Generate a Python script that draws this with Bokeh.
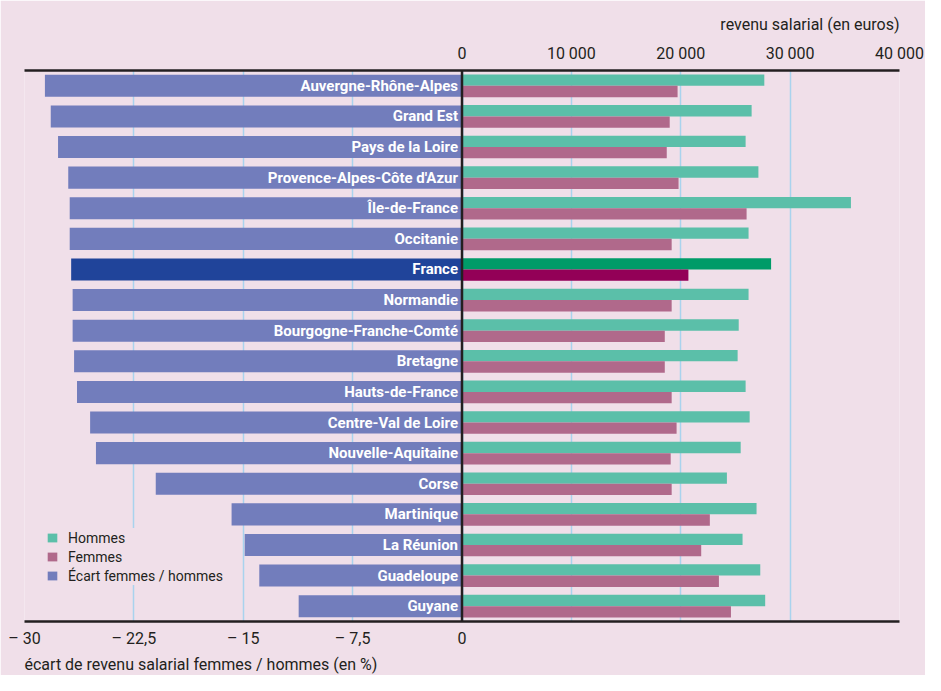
from bokeh.plotting import figure
from bokeh.models import (ColumnDataSource, FactorRange, Range1d, LinearAxis, FixedTicker,
                          Grid, Span, Legend, LegendItem, Title)
from bokeh.transform import dodge
from bokeh.core.properties import value
from bokeh.embed import file_html
from bokeh.resources import INLINE

# ---------------- data ----------------
regions = ["Auvergne-Rhône-Alpes", "Grand Est", "Pays de la Loire", "Provence-Alpes-Côte d'Azur",
           "Île-de-France", "Occitanie", "France", "Normandie", "Bourgogne-Franche-Comté",
           "Bretagne", "Hauts-de-France", "Centre-Val de Loire", "Nouvelle-Aquitaine", "Corse",
           "Martinique", "La Réunion", "Guadeloupe", "Guyane"]
hommes = [27640, 26480, 25930, 27100, 35560, 26200, 28260, 26200, 25300,
          25200, 25930, 26300, 25480, 24220, 26930, 25650, 27270, 27720]
femmes = [19710, 18990, 18720, 19800, 26020, 19170, 20700, 19170, 18540,
          18540, 19170, 19620, 19080, 19170, 22660, 21870, 23490, 24590]
ecart = [-28.6, -28.2, -27.7, -27.0, -26.9, -26.9, -26.8, -26.7, -26.7,
         -26.6, -26.4, -25.5, -25.1, -21.0, -15.8, -14.9, -13.9, -11.2]

ecart_ticks = [-30, -22.5, -15, -7.5, 0]
ecart_tick_labels = ["– 30", "– 22,5", "– 15", "– 7,5", "0"]
euro_ticks = [0, 10000, 20000, 30000, 40000]
euro_tick_labels = ["0", "10 000", "20 000", "30 000", "40 000"]

# ---------------- style ----------------
FONT = "Roboto"
BG = "#f0dfe9"
TXT = "#231f20"
GRID = "#a9d3ee"
C_H, C_F, C_E = "#5bbfa9", "#b0698b", "#727dbc"
C_H_FR, C_F_FR, C_E_FR = "#009b68", "#930057", "#20449a"

src = ColumnDataSource(dict(
    region=regions, hommes=hommes, femmes=femmes, ecart=ecart,
    ch=[C_H_FR if r == "France" else C_H for r in regions],
    cf=[C_F_FR if r == "France" else C_F for r in regions],
    ce=[C_E_FR if r == "France" else C_E for r in regions],
))

p = figure(width=925, height=675,
           x_range=Range1d(-30, 30), y_range=FactorRange(factors=regions[::-1]),
           output_backend="svg", toolbar_location=None,
           y_axis_location=None, x_axis_location="below",
           min_border_left=24, min_border_right=26, min_border_top=70, min_border_bottom=51,
           background_fill_color=BG, border_fill_color=BG, outline_line_color=None,
           title="revenu salarial (en euros)")
p.extra_x_ranges = {"euros": Range1d(-40000, 40000)}

p.title.align = "right"
p.title.text_font = FONT
p.title.text_font_size = "16px"
p.title.text_font_style = "normal"
p.title.text_color = TXT
p.title.standoff = 13

# bottom axis (percent)
ax = p.xaxis[0]
ax.ticker = FixedTicker(ticks=ecart_ticks)
ax.major_label_overrides = dict(zip(ecart_ticks, ecart_tick_labels))
ax.axis_line_width = 2.5
ax.axis_line_color = TXT
ax.major_tick_out = 0
ax.major_tick_in = 0
ax.minor_tick_out = 0
ax.minor_tick_in = 0
ax.major_label_standoff = 7
ax.major_label_text_font = FONT
ax.major_label_text_font_size = "16px"
ax.major_label_text_color = TXT

# top axis (euros)
top = LinearAxis(x_range_name="euros", ticker=FixedTicker(ticks=euro_ticks),
                 major_label_overrides=dict(zip(euro_ticks, euro_tick_labels)),
                 axis_line_width=2.5, axis_line_color=TXT,
                 major_tick_out=0, major_tick_in=0, minor_tick_out=0, minor_tick_in=0,
                 major_label_standoff=8, major_label_text_font=FONT,
                 major_label_text_font_size="16px", major_label_text_color=TXT)
p.add_layout(top, "above")

# bottom label
p.add_layout(Title(text="écart de revenu salarial femmes / hommes (en %)", align="left",
                   text_font=FONT, text_font_size="16px", text_font_style="normal",
                   text_color=TXT, standoff=4), "below")

# grids
p.ygrid.visible = False
p.xgrid.ticker = FixedTicker(ticks=ecart_ticks)
p.xgrid.grid_line_color = GRID
p.xgrid.grid_line_width = 1.5
g2 = Grid(dimension=0, ticker=FixedTicker(ticks=euro_ticks), x_range_name="euros",
          grid_line_color=GRID, grid_line_width=1.5)
p.add_layout(g2)

# bars
re = p.hbar(y="region", left=0, right="ecart", height=0.72, source=src,
            fill_color="ce", line_color=None)
rh = p.hbar(y=dodge("region", 0.185, range=p.y_range), left=0, right="hommes", height=0.37,
            source=src, fill_color="ch", line_color=None, x_range_name="euros")
rf = p.hbar(y=dodge("region", -0.185, range=p.y_range), left=0, right="femmes", height=0.37,
            source=src, fill_color="cf", line_color=None, x_range_name="euros")

p.text(x=0, y="region", text="region", source=src, x_offset=-4,
       text_align="right", text_baseline="middle", text_color="white",
       text_font=value(FONT), text_font_style="bold", text_font_size="15px")

p.add_layout(Span(location=0, dimension="height", line_color=TXT, line_width=2.5))

legend = Legend(items=[LegendItem(label="Hommes", renderers=[rh], index=0),
                       LegendItem(label="Femmes", renderers=[rf], index=0),
                       LegendItem(label="Écart femmes / hommes", renderers=[re], index=0)],
                location=(22, 36), background_fill_color=BG, background_fill_alpha=1,
                border_line_color=None, padding=2, spacing=0, margin=0,
                glyph_width=12, glyph_height=11, label_height=19, label_standoff=10,
                label_text_font=FONT, label_text_font_size="14px", label_text_color=TXT)
p.add_layout(legend)

open("out.html", "w").write(file_html(p, INLINE))
